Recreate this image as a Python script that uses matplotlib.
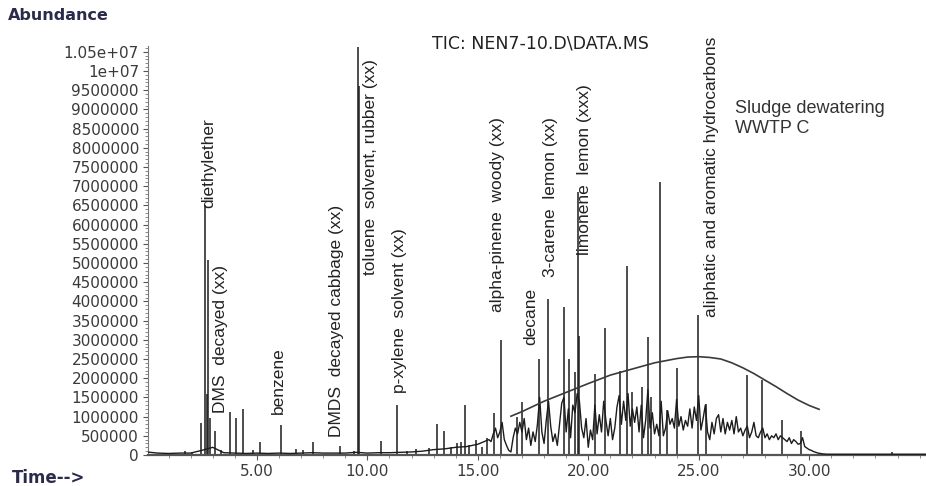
import matplotlib
matplotlib.use("Agg")
import matplotlib.pyplot as plt
import numpy as np
from matplotlib.ticker import FixedLocator, FuncFormatter, MultipleLocator

# abundance values below are in millions of counts, times in minutes

# flat early baseline, read every 0.5 min from 0.0 to 15.0
base_time = np.arange(0.0, 15.01, 0.5)
base_abund = [0.08, 0.05, 0.04, 0.05, 0.05, 0.12, 0.20, 0.06, 0.05, 0.04,
              0.05, 0.04, 0.05, 0.04, 0.05, 0.06, 0.05, 0.05, 0.05, 0.07,
              0.05, 0.06, 0.06, 0.07, 0.08, 0.10, 0.14, 0.16, 0.20, 0.22,
              0.28]

# unresolved hump, read every 0.1 min from 15.5 to 30.8
hump_time = np.round(np.linspace(15.5, 30.8, 154), 1)
hump_abund = [
    0.40, 0.35, 0.55, 0.70, 0.45, 0.60, 0.85, 0.40, 0.25, 0.12,
    0.08, 0.45, 0.70, 0.55, 0.85, 0.60, 0.95, 0.40, 0.70, 0.25,
    0.60, 0.35, 0.80, 1.50, 0.60, 0.30, 0.90, 1.40, 0.75, 0.35,
    0.55, 0.25, 0.80, 1.35, 1.50, 0.60, 1.20, 0.45, 1.30, 1.10,
    1.60, 1.40, 0.70, 0.45, 0.95, 0.20, 0.65, 0.40, 1.30, 0.55,
    1.05, 0.60, 1.40, 0.90, 0.50, 0.95, 0.40, 0.70, 1.25, 1.55,
    0.80, 1.40, 0.90, 1.60, 0.75, 1.20, 0.85, 1.25, 0.60, 1.30,
    0.45, 0.90, 1.70, 0.70, 1.10, 0.55, 0.80, 0.50, 1.40, 0.50,
    0.70, 1.15, 0.80, 0.95, 0.70, 1.45, 0.75, 1.00, 0.65, 0.90,
    0.75, 1.20, 0.70, 1.25, 0.90, 1.55, 0.65, 0.95, 1.30, 0.60,
    0.40, 0.85, 0.55, 0.95, 1.05, 0.60, 0.95, 0.55, 0.85, 0.65,
    0.90, 0.55, 1.00, 0.60, 0.70, 0.50, 0.65, 0.75, 0.45, 0.60,
    0.85, 0.50, 0.45, 0.60, 0.70, 0.45, 0.55, 0.40, 0.50, 0.45,
    0.55, 0.40, 0.50, 0.45, 0.40, 0.35, 0.45, 0.30, 0.40, 0.35,
    0.28, 0.30, 0.45, 0.22, 0.18, 0.14, 0.12, 0.09, 0.07, 0.05,
    0.04, 0.03, 0.025, 0.02,
]

tail_time = [31.5, 33.0, 34.5, 35.5]
tail_abund = [0.02, 0.02, 0.02, 0.02]

# resolved peaks (apex time, apex abundance)
peak_time = [1.74, 2.04, 2.46, 2.67, 2.73, 2.78, 2.88, 3.09, 3.39, 3.77,
             4.04, 4.37, 4.81, 5.12, 6.10, 6.78, 7.07, 7.52, 8.77, 9.41,
             9.58, 9.64, 10.62, 11.34, 11.80, 12.20, 12.80, 13.17, 13.48, 13.78,
             14.08, 14.23, 14.44, 14.60, 14.91, 15.20, 15.43, 15.74, 16.05, 16.79,
             17.01, 17.77, 18.19, 18.89, 19.12, 19.39, 19.54, 19.60, 20.29, 20.75,
             21.45, 21.75, 21.98, 22.43, 22.72, 22.85, 23.27, 23.56, 24.04, 24.99,
             25.34, 27.17, 27.85, 28.78, 29.65, 33.75]
peak_top = [0.10, 0.08, 0.83, 6.50, 1.60, 5.08, 0.96, 0.62, 0.12, 1.12,
            0.96, 1.20, 0.12, 0.34, 0.78, 0.15, 0.12, 0.33, 0.24, 0.10,
            10.62, 9.60, 0.36, 1.29, 0.11, 0.15, 0.17, 0.82, 0.62, 0.22,
            0.30, 0.35, 1.30, 0.26, 0.40, 0.22, 0.43, 1.10, 2.99, 1.00,
            1.39, 2.50, 4.05, 3.85, 2.50, 2.17, 6.85, 3.10, 2.10, 3.30,
            2.20, 4.92, 1.65, 1.78, 3.08, 1.52, 7.12, 1.17, 2.26, 3.65,
            1.33, 2.08, 1.95, 0.90, 0.63, 0.08]

# smooth reference curve drawn over the hump
curve_time = [16.5, 17.0, 18.0, 19.0, 20.0, 21.0, 22.0, 23.0, 24.0, 24.5,
              25.0, 25.5, 26.0, 26.5, 27.0, 27.5, 28.0, 28.5, 29.0, 29.5,
              30.0, 30.45]
curve_abund = [1.01, 1.13, 1.40, 1.63, 1.86, 2.08, 2.24, 2.40, 2.51, 2.55,
               2.56, 2.54, 2.50, 2.40, 2.27, 2.12, 1.95, 1.78, 1.60, 1.43,
               1.29, 1.19]

# compound labels: (text, time, abundance at the bottom of the label)
label_text = ["diethylether", "DMS  decayed (xx)", "benzene",
              "DMDS  decayed cabbage (xx)", "toluene  solvent, rubber (xx)",
              "p-xylene  solvent (xx)", "alpha-pinene  woody (xx)", "decane",
              "3-carene  lemon (xx)", "limonene  lemon (xxx)",
              "aliphatic and aromatic hydrocarbons"]
label_time = [2.82, 3.36, 5.98, 8.62, 10.14, 11.44, 15.91, 17.40, 18.31, 19.84, 25.58]
label_abund = [6.43, 1.09, 1.07, 0.47, 4.69, 1.61, 3.72, 2.86, 4.64, 5.21, 3.59]

xtick_values = [5, 10, 15, 20, 25, 30]

MILLION = 1e6


def yfmt(v, _pos):
    return f"{v:g}" if v >= 1e7 else f"{v:.0f}"


def main():
    trace_t = np.concatenate([base_time, hump_time, tail_time])
    trace_v = np.concatenate([base_abund, hump_abund, tail_abund]) * MILLION

    fig = plt.figure(figsize=(9.26, 4.86), dpi=100)
    ax = fig.add_axes([148 / 926, 31 / 486, 778 / 926, 409 / 486])

    ink = "#1c1c1c"
    ax.vlines(peak_time, 0, np.array(peak_top) * MILLION, color=ink, lw=1.1, zorder=2)
    ax.plot(trace_t, trace_v, color=ink, lw=1.0, zorder=3)
    ax.plot(curve_time, np.array(curve_abund) * MILLION, color="#3a3a3a", lw=1.2, zorder=4)

    ax.set_xlim(0.07, 35.29)
    ax.set_ylim(0, 10.65e6)
    for side in ("top", "right"):
        ax.spines[side].set_visible(False)
    ax.spines["bottom"].set_color("#555555")
    ax.spines["bottom"].set_linewidth(1.6)
    ax.spines["left"].set_color("#777777")
    ax.spines["left"].set_linewidth(0.8)

    ax.xaxis.set_major_locator(FixedLocator(xtick_values))
    ax.xaxis.set_minor_locator(MultipleLocator(1))
    ax.xaxis.set_major_formatter(FuncFormatter(lambda v, p: f"{v:.2f}"))
    ax.yaxis.set_major_locator(MultipleLocator(500000))
    ax.yaxis.set_minor_locator(MultipleLocator(100000))
    ax.yaxis.set_major_formatter(FuncFormatter(yfmt))
    ax.tick_params(which="major", length=3.5, width=0.8, color="#555555",
                   labelsize=11, labelcolor="#3a3a3a", pad=3)
    ax.tick_params(which="minor", length=2, width=0.6, color="#777777")

    for text, t, v in zip(label_text, label_time, label_abund):
        ax.text(t, v * MILLION, text, rotation=90, ha="center", va="bottom",
                family="Liberation Sans", fontsize=12.5, color="#222222", zorder=5)

    ax.text(26.66, 9.24e6, "Sludge dewatering\nWWTP C", ha="left", va="top",
            family="Liberation Sans", fontsize=13, color="#333333", linespacing=1.2)

    fig.text(540 / 926, 1 - 43 / 486, "TIC: NEN7-10.D\\DATA.MS", ha="center", va="center",
             fontsize=12.5, color="#222222")
    fig.text(8 / 926, 1 - 15 / 486, "Abundance", ha="left", va="center",
             fontsize=11.5, fontweight="bold", color="#2a2a4a")
    fig.text(12 / 926, 1 - 478 / 486, "Time-->", ha="left", va="center",
             fontsize=12, fontweight="bold", color="#2a2a4a")

    fig.savefig("out.png", dpi=100, facecolor="white")
    plt.close(fig)


if __name__ == "__main__":
    main()
